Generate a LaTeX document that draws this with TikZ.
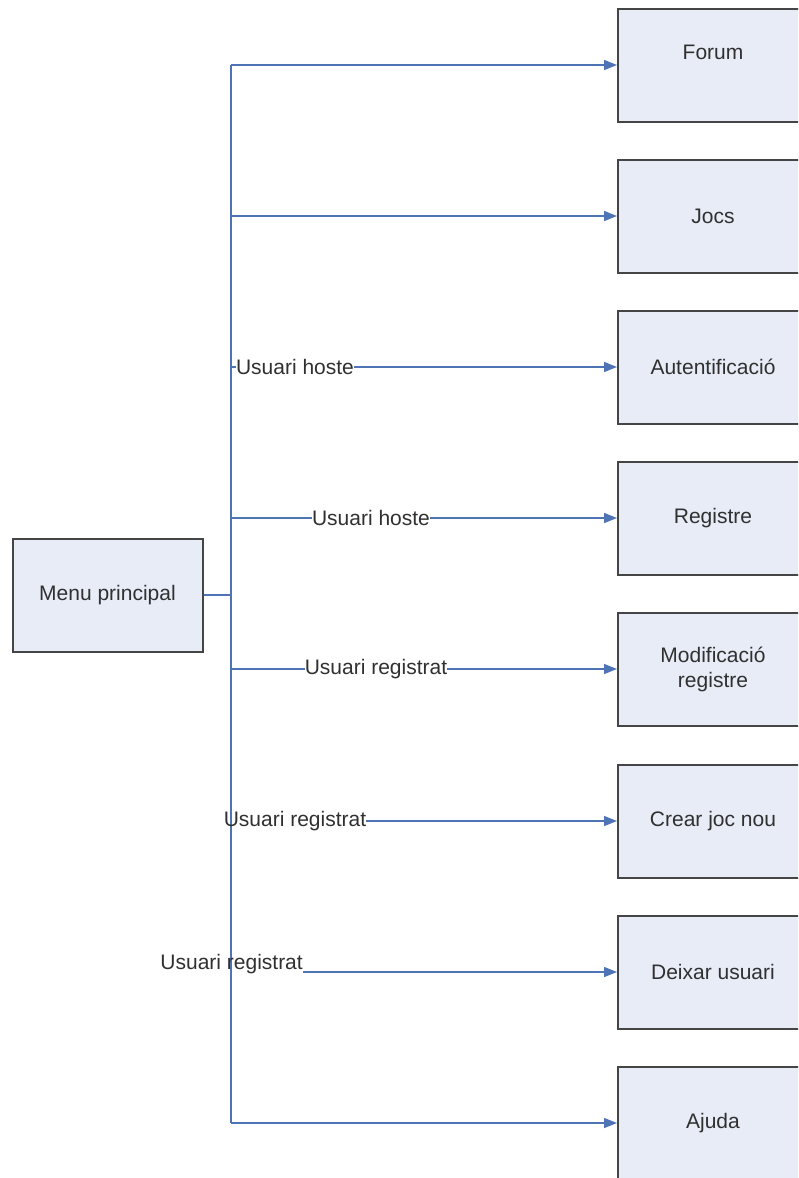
\documentclass[tikz,border=0pt]{standalone}
\usepackage{fontspec}
\setmainfont{Liberation Sans}
\usetikzlibrary{arrows.meta}
\definecolor{linkblue}{HTML}{4F74B5}
\definecolor{boxfill}{HTML}{E7ECF6}
\definecolor{boxline}{HTML}{454545}
\definecolor{txt}{HTML}{303030}
\begin{document}
\begin{tikzpicture}[x=1pt,y=-1pt,
  screen/.style={draw=boxline, line width=2pt, fill=boxfill,
    minimum width=190pt, minimum height=113pt, inner sep=0pt,
    align=center, font=\fontsize{21}{25}\selectfont, text=txt},
  link/.style={draw=linkblue, line width=1.5pt},
  tolink/.style={link, -{Triangle[length=13pt,width=10pt]}},
  cond/.style={font=\fontsize{21}{25}\selectfont, text=txt, inner sep=0pt}]
\useasboundingbox (0,0) rectangle (798,1178);
\clip (0,0) rectangle (798,1178);

% screens
\node[screen] (menu)   at (107.5,595) {Menu principal};
\node[screen] (forum)  at (713,65)   {\raisebox{13pt}[\height][\depth]{Forum}};
\node[screen] (jocs)   at (713,216)  {Jocs};
\node[screen] (auth)   at (713,367)  {Autentificació};
\node[screen] (reg)    at (713,518)  {Registre};
\node[screen] (modreg) at (713,669)  {Modificació\\registre};
\node[screen] (crear)  at (713,821)  {Crear joc nou};
\node[screen] (deixar) at (713,972)  {Deixar usuari};
\node[screen] (ajuda)  at (713,1123) {Ajuda};

% trunk
\coordinate (hub) at (231,595);
\coordinate (top) at (231,65);
\coordinate (bot) at (231,1123);
\draw[link] (menu.east) -- (hub);
\draw[link] (top) -- (bot);

% access conditions
\node[cond] (l3) at (295,367) {Usuari hoste};
\node[cond] (l4) at (371,518) {Usuari hoste};
\node[cond] (l5) at (376,669) {Usuari registrat};
\node[cond] (l6) at (295,821) {Usuari registrat};
\node[cond, anchor=base east] (l7) at (303,969) {Usuari registrat};

% branches
\draw[tolink] (top) -- (forum.west);
\draw[tolink] (hub |- jocs.west) -- (jocs.west);
\draw[link] (hub |- l3.west) -- (l3.west);
\draw[tolink] (l3.east) -- (auth.west);
\draw[link] (hub |- l4.west) -- (l4.west);
\draw[tolink] (l4.east) -- (reg.west);
\draw[link] (hub |- l5.west) -- (l5.west);
\draw[tolink] (l5.east) -- (modreg.west);
\draw[tolink] (l6.east) -- (crear.west);
\draw[tolink] (l7.east |- deixar.west) -- (deixar.west);
\draw[tolink] (bot) -- (ajuda.west);
\end{tikzpicture}
\end{document}
